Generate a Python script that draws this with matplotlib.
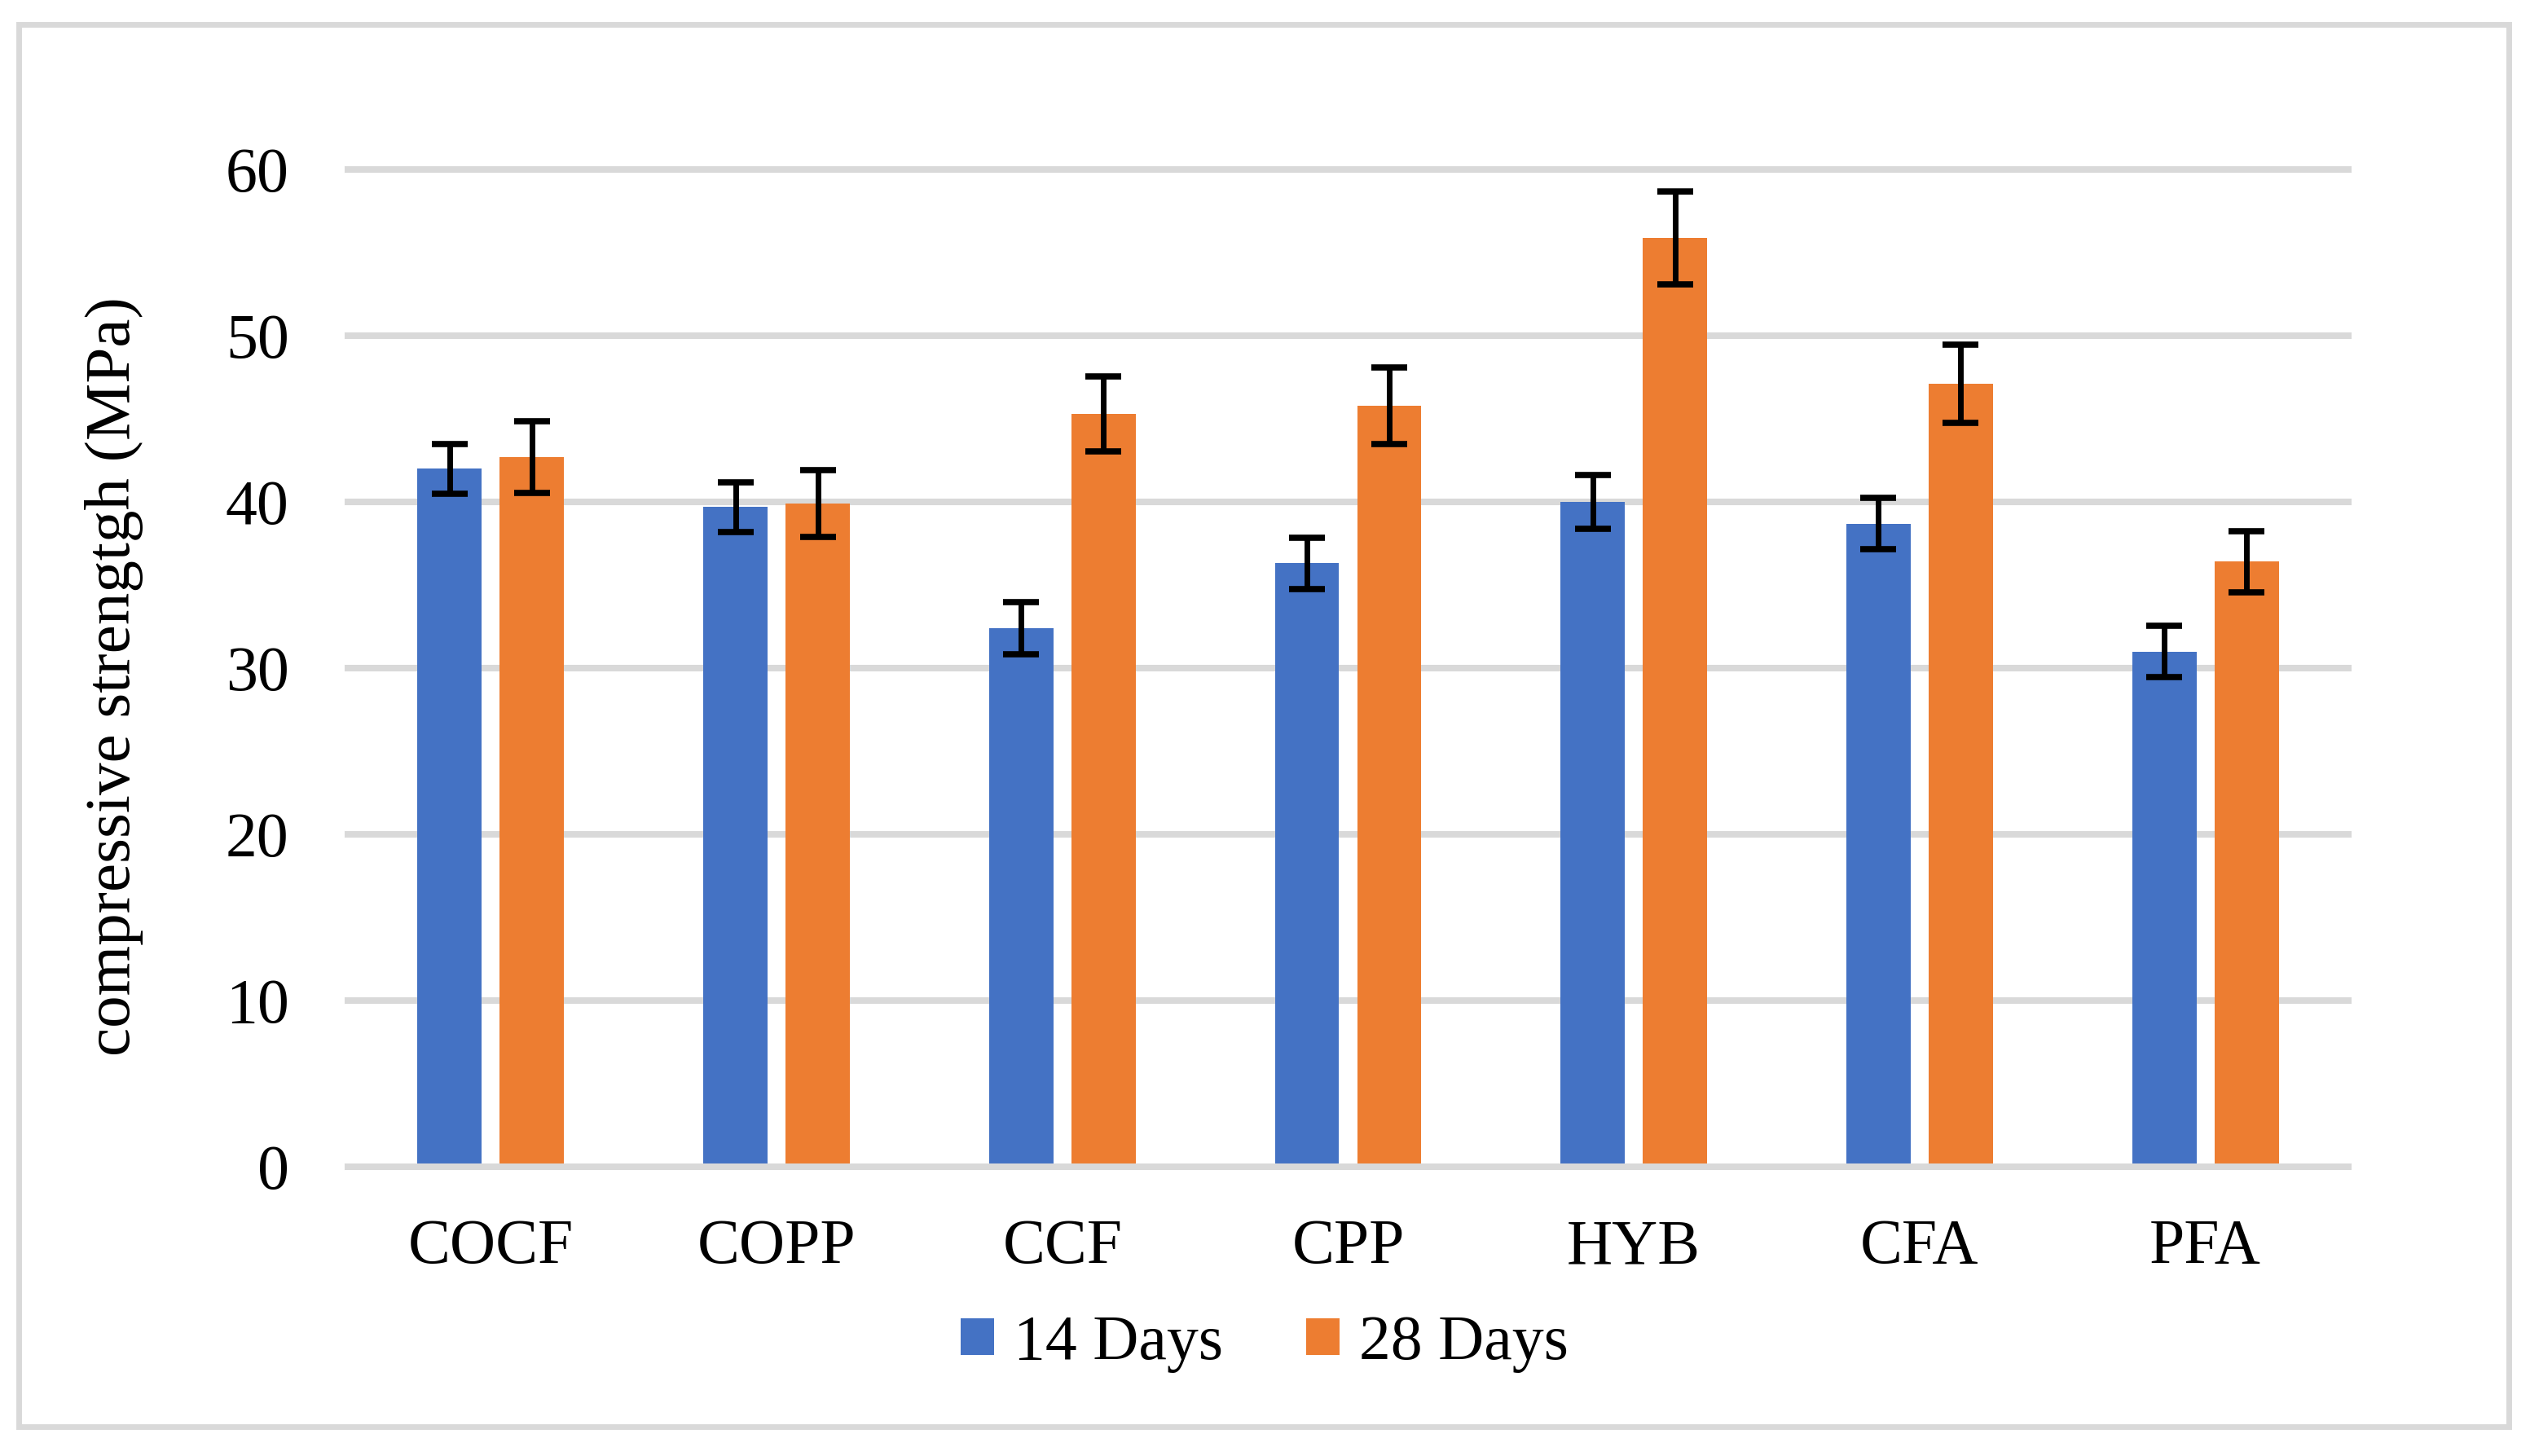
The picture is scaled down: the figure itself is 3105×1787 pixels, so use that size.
import matplotlib
matplotlib.use("Agg")
import matplotlib.pyplot as plt
from matplotlib.patches import Rectangle
import numpy as np

## data
mixes = ["COCF", "COPP", "CCF", "CPP", "HYB", "CFA", "PFA"]
days14 = [42.0, 39.7, 32.4, 36.3, 40.0, 38.7, 31.0]
days28 = [42.7, 39.9, 45.3, 45.8, 55.9, 47.1, 36.4]
err14 = [1.5, 1.5, 1.55, 1.55, 1.6, 1.55, 1.55]
err28 = [2.15, 2.0, 2.25, 2.3, 2.8, 2.35, 1.85]
yticks = [0, 10, 20, 30, 40, 50, 60]

blue = "#4472C4"
orange = "#ED7D31"
grid_col = "#D9D9D9"

plt.rcParams['font.family'] = ['Liberation Serif', 'DejaVu Serif']

W, H = 3105, 1787
fig = plt.figure(figsize=(W / 100, H / 100), dpi=100)
ax = fig.add_axes([427 / W, 1 - 1432 / H, (2882 - 427) / W, (1432 - 208) / H])

x = np.arange(len(mixes))
bw = 0.225
off = 0.144

## gridlines (zero line above the bars)
for v in yticks:
    ax.axhline(v, color=grid_col, lw=5.8, clip_on=False, zorder=4 if v == 0 else 0)

ax.bar(x - off, days14, bw, color=blue, label="14 Days", zorder=2)
ax.bar(x + off, days28, bw, color=orange, label="28 Days", zorder=2)
ax.errorbar(x - off, days14, yerr=err14, fmt="none", ecolor="black",
            elinewidth=5, capsize=15.5, capthick=5.5, zorder=5)
ax.errorbar(x + off, days28, yerr=err28, fmt="none", ecolor="black",
            elinewidth=5, capsize=15.5, capthick=5.5, zorder=5)

ax.set_xlim(-0.5, len(mixes) - 0.5)
ax.set_ylim(0, 60)
ax.set_yticks(yticks)
ax.set_xticks(x)
ax.set_xticklabels(mixes)
ax.tick_params(axis="both", length=0, labelsize=56)
ax.tick_params(axis="y", pad=52)
ax.tick_params(axis="x", pad=46)
for s in ax.spines.values():
    s.set_visible(False)

fig.text(140 / W, 1 - 830 / H, "compressive strengtgh (MPa)", rotation=90,
         ha="center", va="center", fontsize=57)

fig.legend(loc="center", bbox_to_anchor=(1552 / W, 1 - 1649 / H), ncol=2,
           frameon=False, fontsize=56, handlelength=0.53, handleheight=0.51,
           handletextpad=0.31, columnspacing=1.31, borderpad=0)

## chart border
fig.add_artist(Rectangle((23 / W, 1 - 1751 / H), (3079 - 23) / W, (1751 - 30) / H,
                         transform=fig.transFigure, fill=False,
                         edgecolor=grid_col, lw=5))

fig.savefig("out.png", dpi=100, facecolor="white")
